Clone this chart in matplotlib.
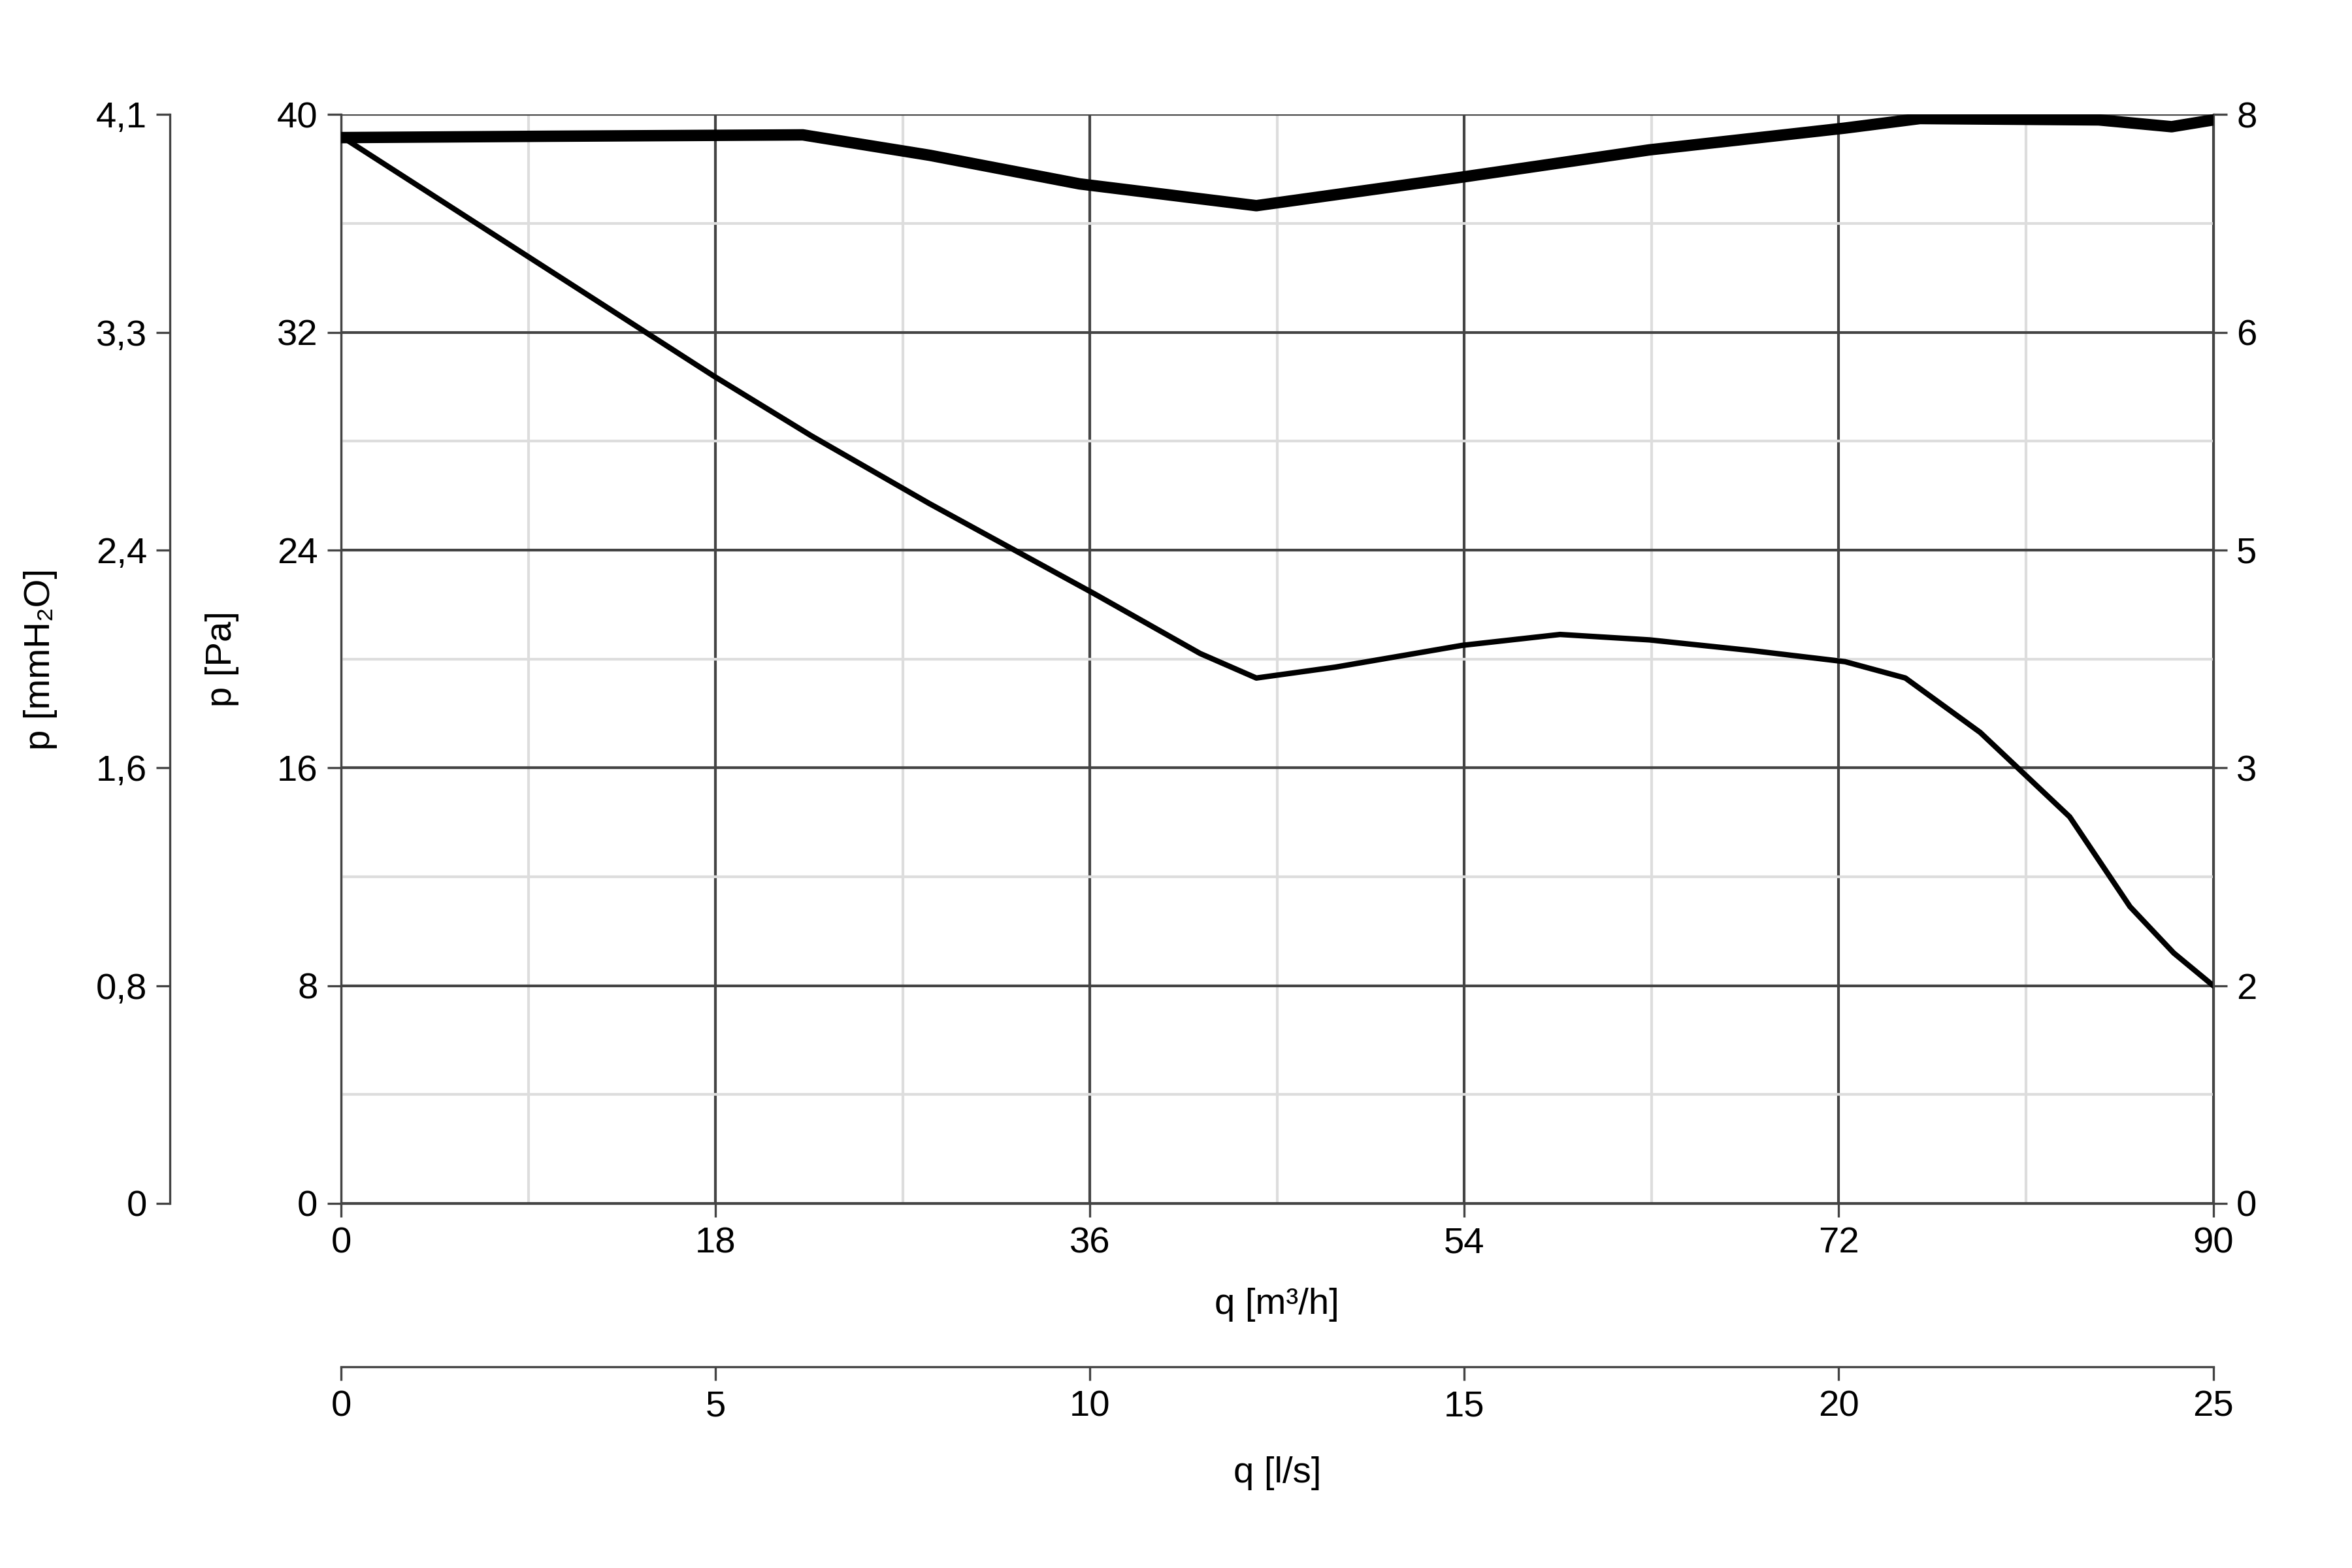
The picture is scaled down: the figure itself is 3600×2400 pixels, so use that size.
import matplotlib
matplotlib.use("Agg")
import matplotlib.pyplot as plt

q_p = [0, 17.9, 22.6, 28.3, 36.2, 41.3, 44, 47.8, 53.9, 58.6, 62.9, 67.9, 72.3, 75.2, 78.8, 83.1, 86, 88.1, 90]
p_pa = [39.2, 30.4, 28.2, 25.7, 22.4, 20.2, 19.3, 19.7, 20.5, 20.9, 20.7, 20.3, 19.9, 19.3, 17.3, 14.2, 10.9, 9.2, 8.0]
q_w = [0, 10, 22.2, 28.3, 35.5, 44, 53.9, 62.9, 72.3, 75.9, 84.5, 88, 90]
pow_w = [7.83, 7.84, 7.85, 7.70, 7.49, 7.33, 7.54, 7.74, 7.90, 7.97, 7.96, 7.91, 7.96]
pa_ticks = [0, 8, 16, 24, 32, 40]
mm_labels = ["0", "0,8", "1,6", "2,4", "3,3", "4,1"]
w_labels = ["0", "2", "3", "5", "6", "8"]
q_ticks = [0, 18, 36, 54, 72, 90]
ls_labels = ["0", "5", "10", "15", "20", "25"]

plt.rcParams['font.family'] = ['Liberation Sans', 'DejaVu Sans']
plt.rcParams['font.size'] = 13.5
fig = plt.figure(figsize=(12, 8), dpi=300)
ax = fig.add_axes([0.145, 0.2325, 0.796, 0.6945])
ax.set_xlim(0, 90); ax.set_ylim(0, 40)
ax.set_xticks(q_ticks); ax.set_yticks(pa_ticks)
ax.set_xticks([9, 27, 45, 63, 81], minor=True)
ax.set_yticks([4, 12, 20, 28, 36], minor=True)
ax.grid(which='major', color='#444444', lw=1.0)
ax.grid(which='minor', color='#dddddd', lw=1.0)
ax.tick_params(which='minor', length=0)
ax.tick_params(which='major', color='#444444', length=5)
for s in ['top', 'right']:
    ax.spines[s].set_visible(False)
for s in ['left', 'bottom']:
    ax.spines[s].set_color('#444444')
ax.set_axisbelow(True)
ax.set_xlabel("q [m³/h]", labelpad=10)
ax.set_ylabel("p [Pa]", labelpad=14)
ax.plot(q_p, p_pa, color='black', lw=2.0, zorder=5)

axw = ax.twinx()
axw.set_ylim(0, 8)
axw.set_yticks([t / 5 for t in pa_ticks], w_labels)
axw.plot(q_w, pow_w, color='black', lw=4.2, zorder=5, solid_joinstyle='round')
for s in ['top', 'left', 'bottom']:
    axw.spines[s].set_visible(False)
axw.spines['right'].set_color('#444444')
axw.tick_params(color='#444444', length=5)
axw.set_ylabel("Power [W]", labelpad=40)

axm = ax.twinx()
axm.spines['left'].set_position(('axes', -0.0913))
axm.yaxis.set_ticks_position('left'); axm.yaxis.set_label_position('left')
axm.set_ylim(0, 40)
axm.set_yticks(pa_ticks, mm_labels)
for s in ['top', 'right', 'bottom']:
    axm.spines[s].set_visible(False)
axm.spines['left'].set_color('#444444')
axm.tick_params(color='#444444', length=5)
axm.set_ylabel("p [mmH₂O]", labelpad=14)

axl = ax.twiny()
axl.spines['bottom'].set_position(('axes', -0.15))
axl.xaxis.set_ticks_position('bottom'); axl.xaxis.set_label_position('bottom')
axl.set_xlim(0, 90)
axl.set_xticks(q_ticks, ls_labels)
for s in ['top', 'right', 'left']:
    axl.spines[s].set_visible(False)
axl.spines['bottom'].set_color('#444444')
axl.tick_params(color='#444444', length=5)
axl.set_xlabel("q [l/s]", labelpad=12)

fig.savefig("out.png", dpi=300)
